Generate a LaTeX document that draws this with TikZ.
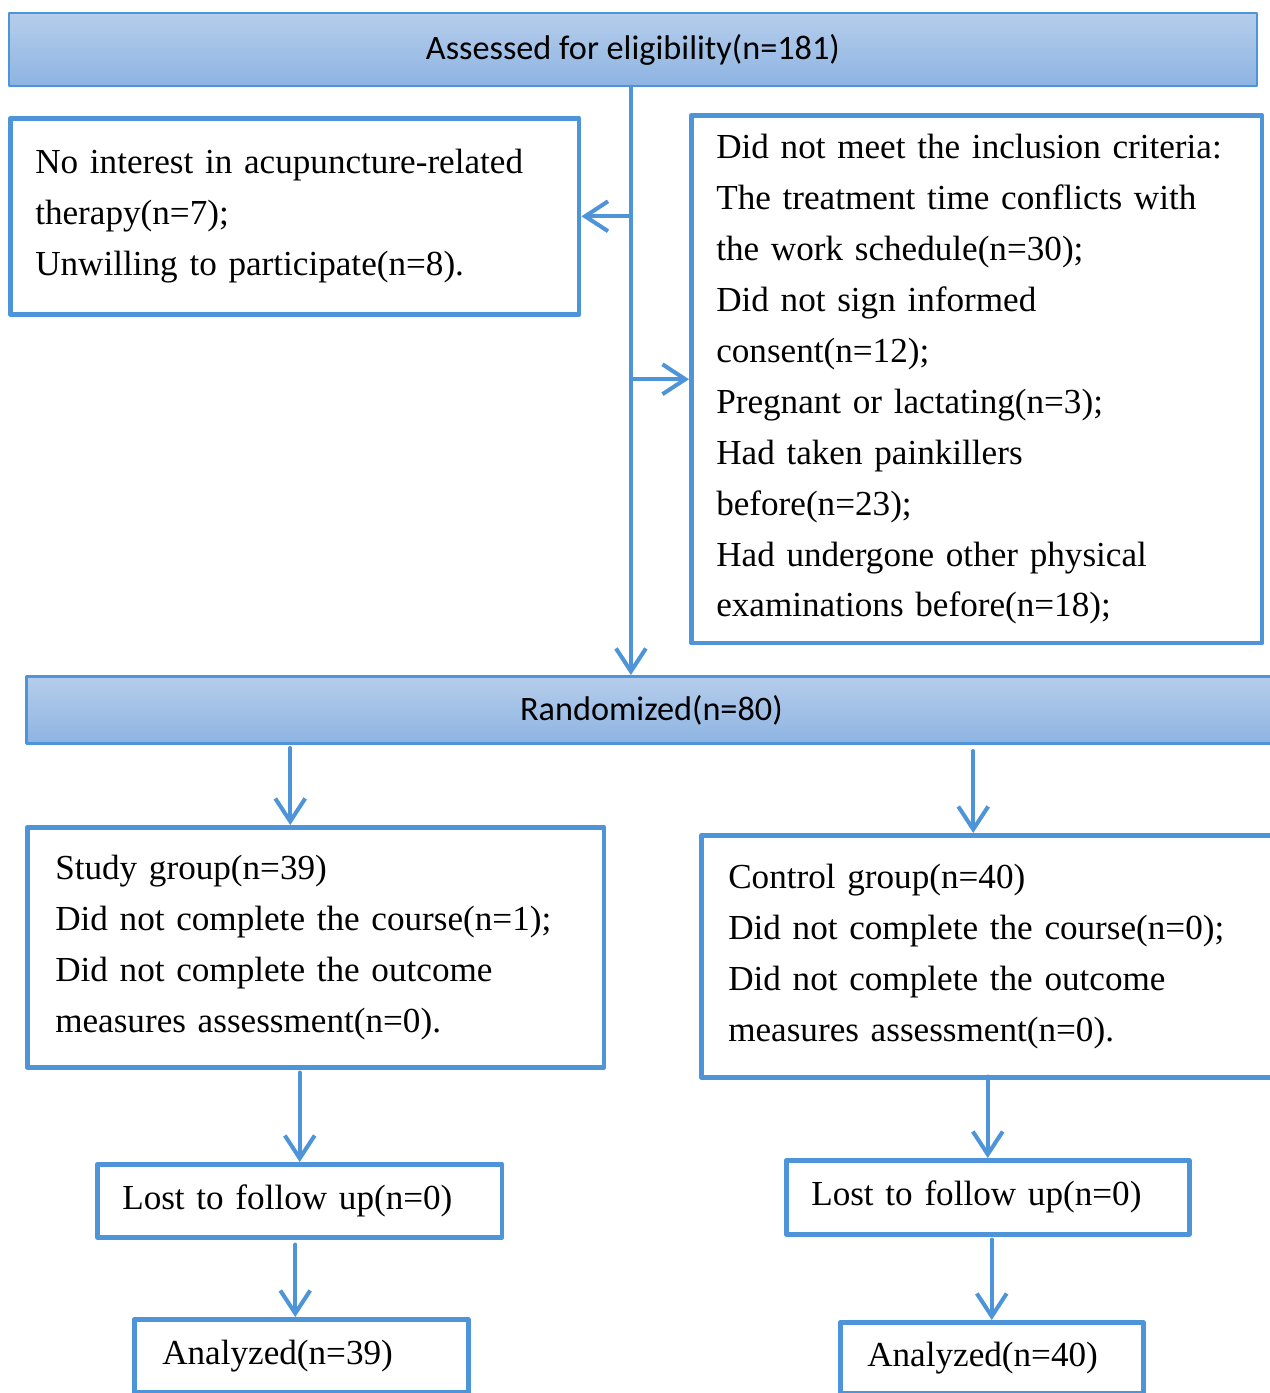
\documentclass[tikz,border=0pt]{standalone}
\usepackage{fontspec}
\setmainfont{Liberation Serif}
\newfontfamily\headfont{Carlito}
\usetikzlibrary{arrows.meta}
\usetikzlibrary{positioning}
\definecolor{lineblue}{RGB}{78,148,216}
\definecolor{headtop}{RGB}{182,205,235}
\definecolor{headbot}{RGB}{141,180,226}
\begin{document}
\begin{tikzpicture}[line cap=round,line join=round,x=0.02cm,y=-0.02cm,
  box/.style={draw=lineblue,line width=2.6pt,rectangle,anchor=north west,align=left,
    inner ysep=0pt,inner xsep=0.5cm,font=\fontsize{20}{29}\selectfont},
  headbox/.style={draw=lineblue,rectangle,anchor=north west,inner sep=0pt,
    top color=headtop,bottom color=headbot,font=\headfont\fontsize{19.5}{23}\selectfont},
  arr/.style={draw=lineblue,line width=2.3pt,-{Straight Barb[length=13pt,width=17pt]}}]
\useasboundingbox (0,0) rectangle (1270,1393);
\clip (0,0) rectangle (1270,1393);
% headers
\node[headbox,line width=1.2pt,minimum width=24.96cm,minimum height=1.46cm] (assess) at (8,12) {Assessed for eligibility(n=181)};
\node[headbox,line width=1.7pt,minimum width=25cm,minimum height=1.34cm] (rand) at (25,675) {Randomized(n=80)};
% exclusions
\node[box,minimum width=11.38cm,minimum height=3.92cm,text width=10.38cm] (noint) at (8,116)
  {No interest in acupuncture-related\\ therapy(n=7);\\ Unwilling to participate(n=8).};
\node[box,minimum width=11.42cm,minimum height=10.56cm,text width=10.42cm] (crit) at (689,113)
  {Did not meet the inclusion criteria:\\ The treatment time conflicts with\\ the work schedule(n=30);\\
   Did not sign informed\\ consent(n=12);\\ Pregnant or lactating(n=3);\\ Had taken painkillers\\
   before(n=23);\\ Had undergone other physical\\ examinations before(n=18);};
% groups
\node[box,inner xsep=0.56cm,minimum width=11.54cm,minimum height=4.8cm,text width=10.42cm] (study) at (25,825)
  {Study group(n=39)\\ Did not complete the course(n=1);\\ Did not complete the outcome\\ measures assessment(n=0).};
\node[box,inner xsep=0.54cm,minimum width=11.52cm,minimum height=4.84cm,text width=10.44cm] (control) at (699,833)
  {Control group(n=40)\\ Did not complete the course(n=0);\\ Did not complete the outcome\\ measures assessment(n=0).};
\node[box,minimum width=8.1cm,minimum height=1.46cm,text width=7.1cm] (lostA) at (95,1162) {Lost to follow up(n=0)};
\node[box,inner xsep=0.56cm,minimum width=6.68cm,minimum height=1.46cm,text width=5.56cm] (anaA) at (132,1317) {Analyzed(n=39)};
\node[box,minimum width=8.06cm,minimum height=1.48cm,text width=7.06cm] (lostB) at (784,1158) {Lost to follow up(n=0)};
\node[box,inner xsep=0.54cm,minimum width=6.06cm,minimum height=1.42cm,text width=4.98cm] (anaB) at (838,1320) {Analyzed(n=40)};
% connectors
\draw[arr] ([xshift=-0.04cm]assess.south) -- ([xshift=-0.04cm]assess.south |- rand.north);
\draw[arr] ([xshift=-0.04cm]assess.south |- noint.east) -- (noint.east);
\draw[arr] ([xshift=-0.04cm]assess.south |- crit.west) -- (crit.west);
\draw[arr] ([xshift=-0.51cm]study.north |- rand.south) ++(0,3) -- ([xshift=-0.51cm]study.north);
\draw[arr] ([xshift=-0.32cm]control.north |- rand.south) ++(0,6) -- ([xshift=-0.32cm]control.north);
\draw[arr] (lostA.north |- study.south) ++(0,3) -- (lostA.north);
\draw[arr] ([xshift=-0.09cm]lostA.south) ++(0,5) -- ([xshift=-0.09cm]lostA.south |- anaA.north);
\draw[arr] (lostB.north |- control.south) ++(0,-3) -- (lostB.north);
\draw[arr] (anaB.north |- lostB.south) ++(0,3) -- (anaB.north);
\end{tikzpicture}
\end{document}
